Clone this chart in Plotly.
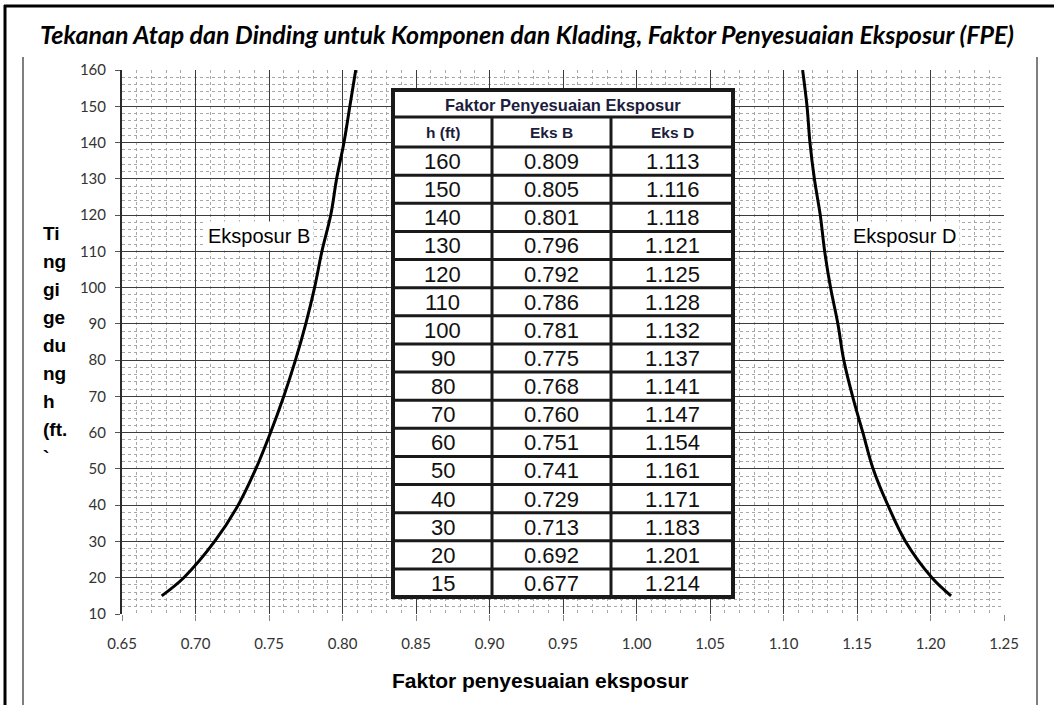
import plotly.graph_objects as go

# ---------------- data ----------------
heights = [160, 150, 140, 130, 120, 110, 100, 90, 80, 70, 60, 50, 40, 30, 20, 15]
eks_b = [0.809, 0.805, 0.801, 0.796, 0.792, 0.786, 0.781, 0.775, 0.768, 0.760,
         0.751, 0.741, 0.729, 0.713, 0.692, 0.677]
eks_d = [1.113, 1.116, 1.118, 1.121, 1.125, 1.128, 1.132, 1.137, 1.141, 1.147,
         1.154, 1.161, 1.171, 1.183, 1.201, 1.214]
table_title = "Faktor Penyesuaian Eksposur"
table_headers = ["h (ft)", "Eks B", "Eks D"]
curve_labels = ["Eksposur B", "Eksposur D"]
chart_title = "Tekanan Atap dan Dinding untuk Komponen dan Klading, Faktor Penyesuaian Eksposur (FPE)"
x_title = "Faktor penyesuaian eksposur"
y_title_parts = ["Ti", "ng", "gi", "ge", "du", "ng", "h", "(ft.", "`"]

W, H = 1054, 705
# plot area in screenshot pixels: x 122..1004, y 70..614
L, T = 122, 70
R = W - 1004
B = H - 614
PW, PH = W - L - R, H - T - B


def px(x):
    return (x - L) / PW


def py(y):
    return (H - B - y) / PH


fig = go.Figure()
for xs, name in ((eks_b, curve_labels[0]), (eks_d, curve_labels[1])):
    fig.add_trace(go.Scatter(x=xs, y=heights, mode="lines", name=name,
                             line=dict(color="black", width=3, shape="spline"),
                             showlegend=False, hoverinfo="x+y"))

shapes = []
annotations = []


def ann(x, y, text, size, family="Liberation Sans, Arial", color="black",
        xanchor="center", yanchor="middle", **kw):
    d = dict(xref="paper", yref="paper", x=px(x), y=py(y), text=text,
             showarrow=False, xanchor=xanchor, yanchor=yanchor,
             font=dict(family=family, size=size, color=color))
    d.update(kw)
    annotations.append(d)


def line(x0, y0, x1, y1, color, width, layer="above"):
    shapes.append(dict(type="line", xref="paper", yref="paper",
                       x0=px(x0), x1=px(x1), y0=py(y0), y1=py(y1),
                       line=dict(color=color, width=width), layer=layer))


# outer frame
line(4, 6, 1054, 6, "black", 3)
line(5, 5, 5, 705, "black", 3)
for xx in (23, 1037):
    line(xx, 57, xx, 705, "#555555", 1.5)

# ---------------- table ----------------
col_edges = [393, 492, 611, 733]
tx0, tx1 = col_edges[0], col_edges[-1]
ty_top, ty_title, ty_head = 90, 117, 147
ty_bot = 597
row_h = (ty_bot - ty_head) / len(heights)

shapes.append(dict(type="rect", xref="paper", yref="paper", x0=px(tx0), x1=px(tx1),
                   y0=py(ty_top), y1=py(ty_bot), fillcolor="white",
                   line=dict(color="#1a1a1a", width=4), layer="above"))
hlines = [ty_title, ty_head] + [ty_head + row_h * k for k in range(1, len(heights))]
for yy in hlines:
    line(tx0, yy, tx1, yy, "#1a1a1a", 3)
for xx in col_edges[1:-1]:
    line(xx, ty_title, xx, ty_bot, "#1a1a1a", 3)

ann((tx0 + tx1) / 2, (ty_top + ty_title) / 2 + 1, "<b>" + table_title + "</b>", 16.5, color="#1c1c3c")
for i, htxt in enumerate(table_headers):
    cx = (col_edges[i] + col_edges[i + 1]) / 2
    ann(cx, (ty_title + ty_head) / 2, "<b>" + htxt + "</b>", 15.5, color="#1c1c3c")
for r, (hv, bv, dv) in enumerate(zip(heights, eks_b, eks_d)):
    cy = ty_head + row_h * (r + 0.5)
    for i, val in enumerate((str(hv), f"{bv:.3f}", f"{dv:.3f}")):
        cx = (col_edges[i] + col_edges[i + 1]) / 2
        ann(cx, cy + 0.5, val, 22, color="#111111")

# curve labels
ann(259, 236, curve_labels[0], 20, bgcolor="white", borderpad=3)
ann(904, 236, curve_labels[1], 20, bgcolor="white", borderpad=3)

# title
ann(527, 34, "<b><i>" + chart_title + "</i></b>", 25, family="Lato")
# x title
ann(540, 680, "<b>" + x_title + "</b>", 21)
# y title (stacked fragments)
for k, part in enumerate(y_title_parts):
    ann(41, 233 + 28 * k, "<b>" + part + "</b>", 19, xanchor="left")

fig.update_layout(
    width=W, height=H,
    margin=dict(l=L, r=R, t=T, b=B),
    paper_bgcolor="white", plot_bgcolor="white",
    shapes=shapes, annotations=annotations,
    xaxis=dict(range=[0.65, 1.25], dtick=0.05, tick0=0.65, tickformat=".2f",
               showgrid=True, gridcolor="#3c3c3c", gridwidth=1,
               ticks="outside", ticklen=6, tickcolor="#888888",
               ticklabelstandoff=10,
               minor=dict(dtick=0.01, showgrid=True, gridcolor="#a8a8a8", griddash="dot", gridwidth=1),
               showline=False, zeroline=False,
               tickfont=dict(family="Lato", size=15, color="#333333")),
    yaxis=dict(range=[10, 160], dtick=10, tick0=10,
               showgrid=True, gridcolor="#3c3c3c", gridwidth=1,
               ticks="outside", ticklen=5, tickcolor="#555555",
               ticklabelstandoff=6,
               minor=dict(dtick=2, showgrid=True, gridcolor="#a8a8a8", griddash="dot", gridwidth=1),
               showline=True, linecolor="#2a2a2a", linewidth=2, zeroline=False,
               tickfont=dict(family="Lato", size=15, color="#333333")),
)

fig.write_html("out.html", config={"displayModeBar": False},
               post_script="document.body.style.margin='0px';document.body.style.overflow='hidden';")
